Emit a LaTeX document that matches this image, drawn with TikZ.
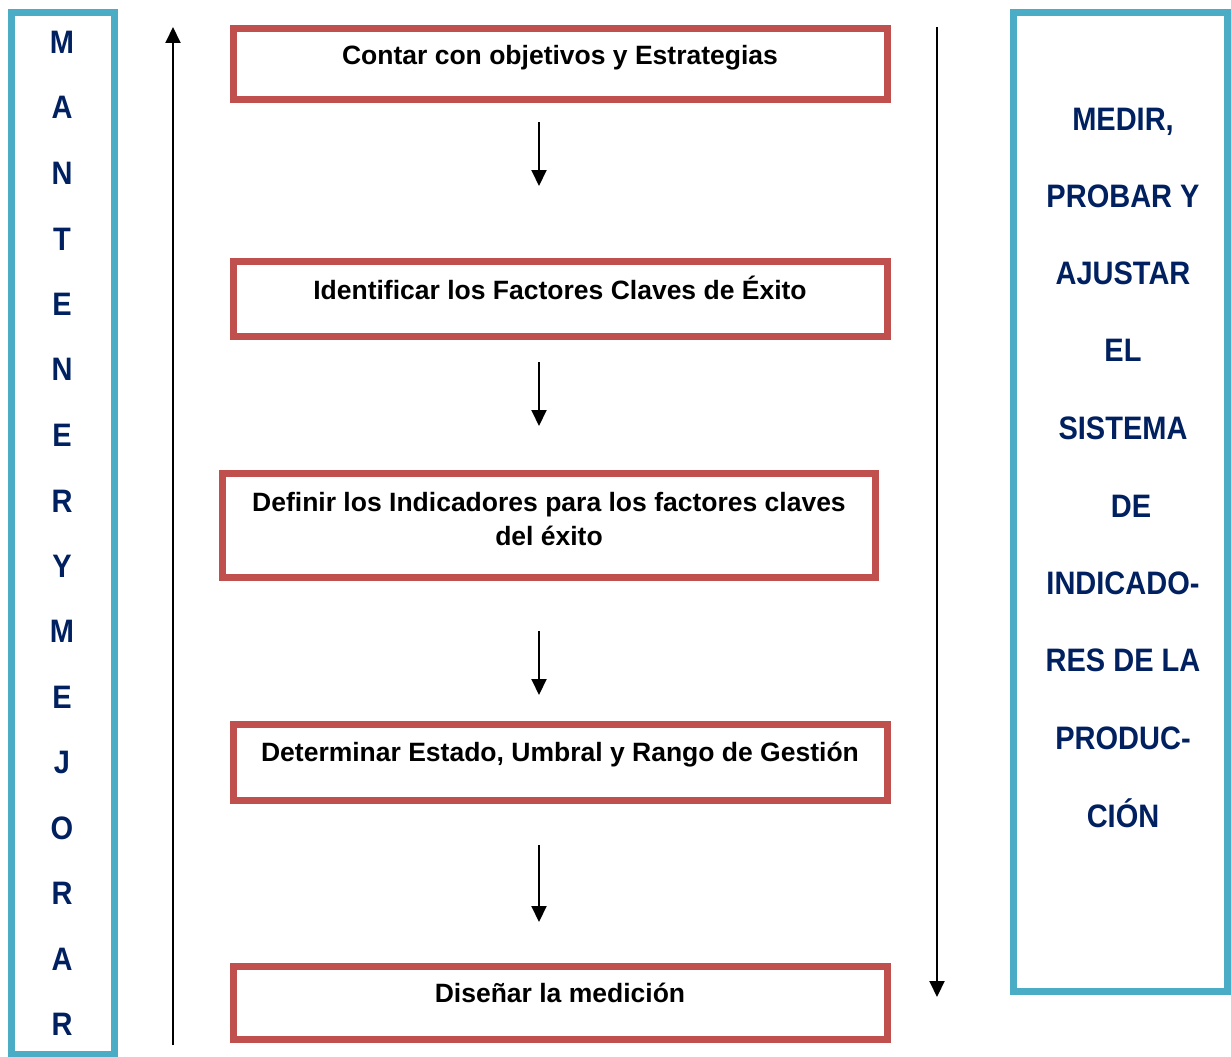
\documentclass[tikz,border=0pt]{standalone}
\usepackage{fontspec}
\usepackage{graphicx}
\setmainfont{Liberation Sans}
\usetikzlibrary{arrows.meta}
\definecolor{boxred}{RGB}{192,80,77}
\definecolor{boxcyan}{RGB}{75,172,198}
\definecolor{navy}{RGB}{0,32,96}
\newcommand{\tallword}[1]{\scalebox{1}[1.12]{#1}}
\tikzset{
  stepbox/.style={draw=boxred, line width=7pt, inner sep=0pt},
  sidebox/.style={draw=boxcyan, line width=7pt, inner sep=0pt},
  steptext/.style={anchor=base, inner sep=0pt, font=\fontsize{26.5}{34}\selectfont\bfseries, align=center},
  sidetext/.style={anchor=base, inner sep=0pt, text=navy, font=\fontsize{29}{34}\selectfont\bfseries},
  flow/.style={line width=2pt, -{Triangle[width=15pt,length=16pt]}},
}
\begin{document}
\begin{tikzpicture}[x=1pt,y=-1pt]
\useasboundingbox (0,0) rectangle (1231,1057);

% side frames
\node[sidebox, minimum width=102.5pt, minimum height=1041.5pt] (left) at (62.75,533.25) {};
\node[sidebox, minimum width=214pt, minimum height=979pt] (right) at (1120,502) {};

% vertical letters of the left frame
\foreach \ch/\yy [count=\i] in {M/42,A/107,N/173,T/239,E/304,N/369,E/435,R/501,Y/566,M/631,E/697,J/762,O/828,R/893,A/959,R/1024}
  \node[sidetext] (l\i) at (62,\yy+11) {\tallword{\ch}};

% text of the right frame
\foreach \tx/\xx/\yy [count=\i] in {{MEDIR,}/1123/119,{PROBAR Y}/1123/196,{AJUSTAR}/1123/273,{EL}/1123/350,{SISTEMA}/1123/428,{DE}/1131/506,{INDICADO-}/1123/583,{RES DE LA}/1123/660,{PRODUC-}/1123/738,{CIÓN}/1123/816}
  \node[sidetext] (r\i) at (\xx,\yy+11) {\tallword{\tx}};

% process steps
\node[stepbox, minimum width=654pt, minimum height=71pt] (b1) at (560,64) {};
\node[stepbox, minimum width=654pt, minimum height=74.5pt] (b2) at (560,298.75) {};
\node[stepbox, minimum width=653pt, minimum height=104pt] (b3) at (549,525.5) {};
\node[stepbox, minimum width=654pt, minimum height=75.5pt] (b4) at (560,762.25) {};
\node[stepbox, minimum width=654pt, minimum height=73pt] (b5) at (560,1003) {};

\node[steptext] (t1) at (560,64) {Contar con objetivos y Estrategias};
\node[steptext] (t2) at (560,299) {Identificar los Factores Claves de Éxito};
\node[steptext, anchor=north] (t3) at (549,492) {Definir los Indicadores para los factores claves\\del éxito};
\node[steptext] (t4) at (560,761) {Determinar Estado, Umbral y Rango de Gestión};
\node[steptext] (t5) at (560,1002) {Diseñar la medición};

% short arrows between steps
\coordinate (a1s) at (539,122); \coordinate (a1e) at (539,186);
\coordinate (a2s) at (539,362); \coordinate (a2e) at (539,426);
\coordinate (a3s) at (539,631); \coordinate (a3e) at (539,695);
\coordinate (a4s) at (539,845); \coordinate (a4e) at (539,922);
\draw[flow] (a1s) -- (a1e);
\draw[flow] (a2s) -- (a2e);
\draw[flow] (a3s) -- (a3e);
\draw[flow] (a4s) -- (a4e);

% long arrows along the sides
\coordinate (upS) at (173,1045); \coordinate (upE) at (173,27);
\coordinate (dnS) at (937,27); \coordinate (dnE) at (937,997);
\draw[flow] (upS) -- (upE);
\draw[flow] (dnS) -- (dnE);
\end{tikzpicture}
\end{document}
